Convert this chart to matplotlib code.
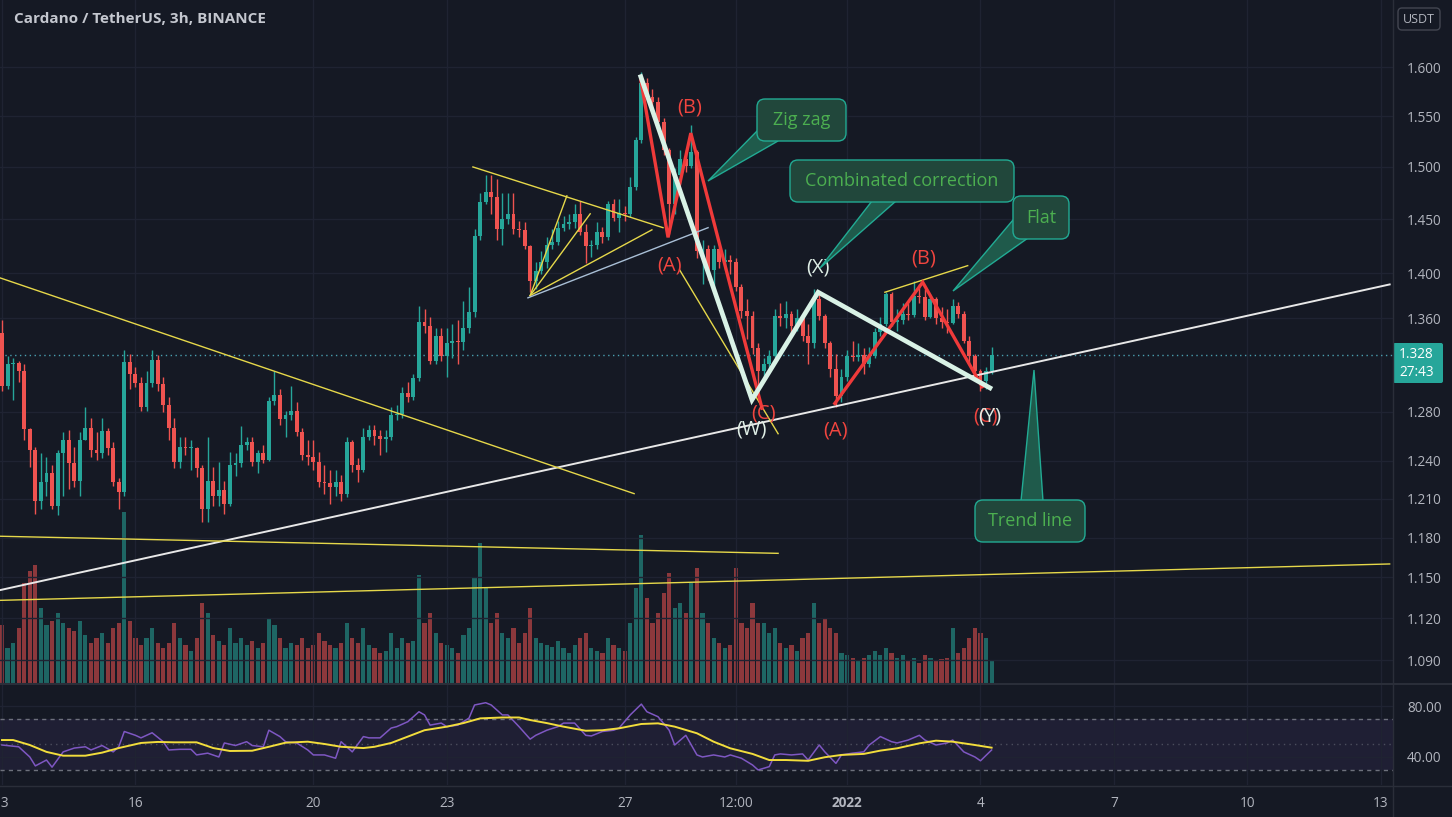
import numpy as np
import pandas as pd
import matplotlib
matplotlib.use("Agg")
import matplotlib.pyplot as plt
from matplotlib.patches import FancyBboxPatch, Polygon
from matplotlib.ticker import FixedLocator, NullLocator, NullFormatter

plt.rcParams['font.family'] = ['Open Sans', 'DejaVu Sans']

# ---- data: ADA/USDT 3h candles, 2021-12-13 00:00 .. 2022-01-04 06:00 ----
start = pd.Timestamp('2021-12-13 00:00')
first_open = 1.347
close = [1.302, 1.320, 1.321, 1.314, 1.266, 1.249, 1.208, 1.223, 1.230, 1.204,
         1.246, 1.257, 1.238, 1.224, 1.257, 1.267, 1.249, 1.246, 1.264, 1.250,
         1.223, 1.215, 1.322, 1.312, 1.304, 1.284, 1.304, 1.324, 1.303, 1.286,
         1.267, 1.239, 1.251, 1.250, 1.250, 1.234, 1.202, 1.224, 1.212, 1.217,
         1.206, 1.237, 1.238, 1.253, 1.255, 1.239, 1.246, 1.241, 1.289, 1.294,
         1.274, 1.277, 1.281, 1.263, 1.245, 1.243, 1.239, 1.223, 1.222, 1.219,
         1.223, 1.214, 1.255, 1.237, 1.233, 1.259, 1.265, 1.260, 1.258, 1.259,
         1.277, 1.278, 1.296, 1.292, 1.308, 1.357, 1.353, 1.323, 1.344, 1.327,
         1.338, 1.340, 1.339, 1.351, 1.365, 1.434, 1.466, 1.476, 1.471, 1.441,
         1.450, 1.455, 1.441, 1.440, 1.425, 1.393, 1.402, 1.410, 1.426, 1.429,
         1.442, 1.445, 1.447, 1.455, 1.438, 1.425, 1.426, 1.438, 1.433, 1.464,
         1.451, 1.456, 1.455, 1.480, 1.526, 1.584, 1.569, 1.564, 1.544, 1.516,
         1.464, 1.492, 1.508, 1.501, 1.514, 1.420, 1.422, 1.403, 1.422, 1.410,
         1.412, 1.410, 1.388, 1.366, 1.362, 1.334, 1.314, 1.320, 1.327, 1.362,
         1.360, 1.364, 1.353, 1.360, 1.344, 1.338, 1.377, 1.362, 1.338, 1.316,
         1.293, 1.309, 1.327, 1.326, 1.328, 1.320, 1.327, 1.348, 1.355, 1.381,
         1.357, 1.358, 1.364, 1.363, 1.380, 1.379, 1.361, 1.377, 1.360, 1.357,
         1.356, 1.371, 1.364, 1.340, 1.327, 1.314, 1.306, 1.314, 1.328]
high = [1.358, 1.327, 1.325, 1.323, 1.320, 1.267, 1.251, 1.246, 1.243, 1.237,
        1.249, 1.263, 1.265, 1.251, 1.263, 1.284, 1.275, 1.263, 1.275, 1.267,
        1.255, 1.226, 1.332, 1.329, 1.318, 1.309, 1.314, 1.332, 1.328, 1.309,
        1.292, 1.275, 1.259, 1.259, 1.257, 1.251, 1.237, 1.259, 1.235, 1.239,
        1.224, 1.247, 1.246, 1.268, 1.259, 1.259, 1.249, 1.253, 1.292, 1.314,
        1.299, 1.281, 1.302, 1.288, 1.267, 1.257, 1.257, 1.247, 1.237, 1.233,
        1.233, 1.229, 1.259, 1.257, 1.242, 1.267, 1.269, 1.269, 1.265, 1.265,
        1.284, 1.286, 1.301, 1.305, 1.312, 1.371, 1.368, 1.361, 1.351, 1.351,
        1.351, 1.355, 1.358, 1.375, 1.388, 1.441, 1.475, 1.492, 1.492, 1.488,
        1.475, 1.475, 1.475, 1.448, 1.447, 1.426, 1.410, 1.420, 1.433, 1.441,
        1.448, 1.453, 1.455, 1.464, 1.467, 1.445, 1.431, 1.447, 1.443, 1.467,
        1.469, 1.469, 1.462, 1.490, 1.529, 1.595, 1.589, 1.577, 1.569, 1.548,
        1.518, 1.499, 1.516, 1.516, 1.541, 1.516, 1.431, 1.426, 1.426, 1.424,
        1.422, 1.417, 1.414, 1.390, 1.377, 1.366, 1.338, 1.325, 1.332, 1.368,
        1.373, 1.375, 1.366, 1.368, 1.361, 1.355, 1.386, 1.384, 1.364, 1.340,
        1.329, 1.316, 1.332, 1.340, 1.338, 1.334, 1.335, 1.351, 1.361, 1.383,
        1.383, 1.368, 1.373, 1.373, 1.393, 1.390, 1.386, 1.381, 1.379, 1.370,
        1.368, 1.377, 1.374, 1.366, 1.344, 1.329, 1.316, 1.318, 1.335]
low = [1.297, 1.299, 1.290, 1.305, 1.257, 1.235, 1.198, 1.202, 1.212, 1.202,
       1.197, 1.212, 1.218, 1.219, 1.212, 1.257, 1.243, 1.241, 1.242, 1.245,
       1.220, 1.202, 1.212, 1.299, 1.301, 1.281, 1.281, 1.301, 1.297, 1.280,
       1.257, 1.234, 1.234, 1.245, 1.233, 1.227, 1.192, 1.192, 1.204, 1.204,
       1.198, 1.204, 1.228, 1.235, 1.249, 1.236, 1.230, 1.238, 1.240, 1.286,
       1.269, 1.259, 1.273, 1.260, 1.241, 1.237, 1.233, 1.219, 1.214, 1.206,
       1.212, 1.208, 1.211, 1.231, 1.223, 1.231, 1.257, 1.253, 1.245, 1.247,
       1.257, 1.273, 1.275, 1.288, 1.290, 1.306, 1.347, 1.320, 1.320, 1.323,
       1.309, 1.325, 1.320, 1.332, 1.347, 1.361, 1.431, 1.464, 1.455, 1.431,
       1.426, 1.445, 1.436, 1.433, 1.422, 1.383, 1.386, 1.399, 1.405, 1.422,
       1.426, 1.439, 1.441, 1.442, 1.435, 1.409, 1.415, 1.422, 1.428, 1.431,
       1.448, 1.438, 1.448, 1.452, 1.478, 1.523, 1.565, 1.557, 1.538, 1.511,
       1.436, 1.455, 1.483, 1.495, 1.499, 1.414, 1.390, 1.394, 1.386, 1.405,
       1.403, 1.399, 1.384, 1.360, 1.342, 1.329, 1.296, 1.306, 1.316, 1.325,
       1.353, 1.351, 1.347, 1.349, 1.340, 1.320, 1.334, 1.358, 1.334, 1.309,
       1.284, 1.288, 1.306, 1.323, 1.323, 1.312, 1.318, 1.325, 1.344, 1.353,
       1.353, 1.349, 1.355, 1.358, 1.361, 1.373, 1.358, 1.360, 1.355, 1.351,
       1.347, 1.355, 1.360, 1.338, 1.320, 1.308, 1.297, 1.299, 1.312]
# volume (relative units)
volume = [58, 35, 40, 55, 100, 112, 118, 75, 58, 62,
          70, 60, 55, 52, 62, 48, 40, 45, 50, 40,
          55, 60, 171, 62, 45, 38, 45, 55, 40, 35,
          40, 60, 45, 38, 32, 45, 80, 70, 48, 42,
          38, 55, 40, 45, 38, 42, 35, 40, 65, 58,
          45, 35, 40, 38, 45, 35, 38, 50, 42, 38,
          35, 40, 60, 45, 40, 55, 38, 35, 30, 32,
          50, 35, 45, 40, 42, 108, 60, 70, 50, 40,
          38, 35, 30, 48, 55, 105, 140, 95, 60, 70,
          50, 45, 55, 40, 50, 75, 45, 40, 38, 36,
          42, 35, 30, 38, 45, 50, 35, 32, 30, 45,
          38, 35, 32, 60, 95, 148, 85, 60, 70, 90,
          110, 75, 80, 70, 100, 115, 70, 60, 45, 40,
          35, 38, 115, 60, 55, 80, 60, 60, 50, 55,
          40, 35, 38, 32, 45, 50, 80, 60, 65, 55,
          50, 30, 28, 25, 22, 25, 28, 32, 28, 35,
          30, 25, 28, 22, 25, 20, 28, 25, 22, 24,
          25, 55, 30, 35, 45, 55, 50, 45, 22]

# RSI(14) and its moving average (bar index, value)
rsi_t = [0, 3, 5, 6, 8, 9, 11, 13, 15, 16, 18, 20, 21, 22, 24, 25, 27, 29, 30, 32,
         34, 35, 37, 39, 40, 42, 44, 45, 47, 48, 50, 51, 53, 55, 56, 58, 60, 61, 63, 65,
         66, 68, 70, 71, 73, 75, 76, 77, 79, 80, 82, 84, 85, 87, 88, 90, 91, 93, 95, 96,
         98, 100, 101, 103, 105, 106, 108, 110, 111, 113, 115, 116, 118, 120, 121, 123, 125, 126, 128, 130,
         131, 133, 135, 136, 138, 139, 140, 142, 144, 145, 147, 148, 150, 151, 153, 155, 156, 158, 160, 161,
         163, 165, 166, 168, 170, 171, 173, 175, 176, 178]
rsi_v = [49.4, 48, 40, 33, 37.6, 32, 44, 47, 48, 45.5, 49, 44, 48, 60, 57, 55, 59, 52, 45.5, 46,
         46, 41.6, 43, 40, 51, 49, 52, 49, 48, 61, 56, 52, 51, 45.5, 41.6, 41.6, 39, 52, 44, 56,
         55, 55, 62.7, 63.8, 67.7, 75.5, 73, 65, 66.6, 63.8, 65, 70.5, 80.8, 82.6, 80.8, 73, 73, 63.8, 54, 57,
         61, 63.8, 66.6, 66.6, 57, 56.5, 60, 61, 62.7, 73, 81.5, 75.5, 71.6, 61, 49.4, 57, 41.6, 40, 41.6, 40,
         41.6, 39, 33.7, 29.8, 32.4, 41.6, 42.4, 41.6, 42.4, 37.6, 49.4, 44, 35, 41.6, 43, 44, 49.4, 56, 52, 51,
         53.3, 57, 53.3, 49.4, 51, 53.3, 44, 40, 37, 45.5]
rsi_ma_t = [0, 2, 5, 8, 11, 15, 18, 21, 25, 28, 31, 35, 38, 41, 45, 48, 51, 55, 58, 61,
            65, 67, 70, 73, 76, 80, 83, 86, 90, 93, 95, 98, 101, 105, 108, 111, 115, 118, 121, 125,
            128, 131, 135, 138, 141, 145, 148, 151, 155, 158, 161, 165, 168, 171, 175, 178]
rsi_ma_v = [53.3, 53.3, 49.4, 44, 41, 41, 43.4, 47, 51, 51.8, 51.5, 51.5, 47, 44.7, 44.9, 48, 51.2, 52, 50.2, 48,
            47, 48, 51, 56, 61, 63.8, 66.6, 70.3, 71, 71, 69, 66.6, 63.8, 60.6, 61, 62.5, 65.9, 66.4, 63.8, 58.6,
            52, 46.8, 42.4, 37.6, 37.6, 37, 39.8, 41.6, 42.4, 45, 46.8, 50.7, 52.8, 52, 49.4, 47.3]

# drawings (bar index, price)
white_trend = [(-0.4, 1.1405), (249.6, 1.390)]
yellow_lines = [[(-0.4, 1.396), (113.7, 1.214)],
                [(-0.4, 1.181), (139.6, 1.168)],
                [(-0.4, 1.133), (249.6, 1.160)],
                [(84.7, 1.4998), (118.9, 1.442)],
                [(95.0, 1.380), (101.6, 1.472)],
                [(95.0, 1.380), (105.8, 1.455)],
                [(95.0, 1.380), (116.9, 1.440)],
                [(121.9, 1.403), (139.6, 1.262)],
                [(158.8, 1.383), (173.7, 1.407)]]
blue_line = [(94.6, 1.378), (127.0, 1.442)]
wave_wxy = [(114.9, 1.590), (134.9, 1.290), (146.8, 1.383), (177.7, 1.300)]
zigzag_abc = [(114.9, 1.587), (119.8, 1.433), (123.9, 1.533), (136.7, 1.283)]
flat_abc = [(149.8, 1.287), (165.6, 1.392), (176.3, 1.301)]
wave_labels = [("(B)", 123.7, 1.5586, 'red'), ("(A)", 120.0, 1.4067, 'red'),
               ("(X)", 146.8, 1.405, 'white'), ("(B)", 165.8, 1.4133, 'red'),
               ("(C)", 136.9, 1.279, 'red'), ("(W)", 134.9, 1.2651, 'white'),
               ("(A)", 150.0, 1.265, 'red'), ("(C)", 177.0, 1.276, 'red'),
               ("(Y)", 177.7, 1.276, 'white')]

price_ticks = [1.09, 1.12, 1.15, 1.18, 1.21, 1.24, 1.28, 1.36, 1.40, 1.45, 1.50, 1.55, 1.60]
date_ticks = ['2021-12-13', '2021-12-16', '2021-12-20', '2021-12-23', '2021-12-27',
              '2021-12-29 12:00', '2022-01-01', '2022-01-04', '2022-01-07', '2022-01-10', '2022-01-13']
date_labels = ['13', '16', '20', '23', '27', '12:00', '2022', '4', '7', '10', '13']

# ---- style ----
BG = '#151924'
GRID = '#1f2332'
TXT = '#b2b5be'
UP = '#26a69a'
DN = '#ef5350'
WAVE_W = '#d9f2e6'

W, H = 1452, 817
fig = plt.figure(figsize=(W / 100, H / 100), dpi=100)
fig.patch.set_facecolor(BG)


def fx(px):
    return px / W


def fy(py):
    return 1 - py / H


close = np.array(close)
high = np.array(high)
low = np.array(low)
volume = np.array(volume)
n = len(close)
t = np.arange(n)
opn = np.r_[first_open, close[:-1]]
up = close >= opn
colors = np.where(up, UP, DN)
high = np.maximum(high, np.maximum(opn, close))
low = np.minimum(low, np.minimum(opn, close))

xmin, xmax = -0.36, 250.2
tick_idx = [(pd.Timestamp(d) - start) / pd.Timedelta('3h') for d in date_ticks]

# main price pane
ax = fig.add_axes([0, fy(683), fx(1393), 683 / H])
axv = ax.twinx()
ax.set_zorder(axv.get_zorder() + 1)
ax.patch.set_visible(False)
axv.patch.set_visible(False)

axv.bar(t, volume, width=0.75, color=colors, alpha=0.55, linewidth=0)
axv.set_ylim(0, 683)
axv.set_yticks([])
for s in axv.spines.values():
    s.set_visible(False)

ax.set_yscale('log')
ax.set_xlim(xmin, xmax)
ax.set_ylim(1.0740, 1.6709)
ax.yaxis.set_major_locator(FixedLocator(price_ticks))
ax.yaxis.set_minor_locator(NullLocator())
ax.yaxis.set_minor_formatter(NullFormatter())
ax.set_yticklabels([f'{p:.3f}' for p in price_ticks])
ax.yaxis.tick_right()
ax.tick_params(axis='y', length=0, pad=10, labelsize=9.8, labelcolor=TXT)
ax.set_xticks(tick_idx)
ax.tick_params(axis='x', length=0, labelbottom=False)
ax.grid(True, color=GRID, lw=1)
for s in ax.spines.values():
    s.set_visible(False)

# candles
ax.vlines(t, low, high, colors=colors, lw=1, zorder=3)
body_lo = np.minimum(opn, close)
body_h = np.maximum(np.abs(close - opn), 0.0009)
ax.bar(t, body_h, bottom=body_lo, width=0.7, color=colors, linewidth=0, zorder=4)

# last price dotted line
ax.axhline(close[-1], color='#4a9fb0', lw=1, ls=(0, (1, 2.5)), zorder=2)

# drawings
(x0, y0), (x1, y1) = white_trend
ax.plot([x0, x1], [y0, y1], color='#e8e8e8', lw=1.4, zorder=5)
for seg in yellow_lines:
    xs, ys = zip(*seg)
    ax.plot(xs, ys, color='#e6d84a', lw=1, zorder=5)
xs, ys = zip(*blue_line)
ax.plot(xs, ys, color='#a9bfd6', lw=1, zorder=5)
xs, ys = zip(*zigzag_abc)
ax.plot(xs, ys, color='#f03a3a', lw=2.4, zorder=6, solid_joinstyle='miter')
xs, ys = zip(*flat_abc)
ax.plot(xs, ys, color='#f03a3a', lw=2.4, zorder=6, solid_joinstyle='miter')
xs, ys = zip(*wave_wxy)
ax.plot(xs, ys, color=WAVE_W, lw=3.4, zorder=7, solid_joinstyle='miter')
for txt, xi, pi, c in wave_labels:
    col = '#f0453f' if c == 'red' else '#dfeee6'
    ax.text(xi, pi, txt, color=col, fontsize=14.5, ha='center', va='center', zorder=8)

# RSI pane
axr = fig.add_axes([0, fy(785), fx(1393), 100 / H], sharex=ax)
axr.patch.set_visible(False)
axr.set_ylim(18, 96.5)
axr.axhspan(30, 70, color='#7e57c2', alpha=0.1, lw=0)
for lvl, ls in [(70, (0, (3, 3))), (30, (0, (3, 3))), (50, (0, (1, 3)))]:
    axr.axhline(lvl, color='#787b86', lw=1, ls=ls, alpha=0.9 if lvl != 50 else 0.5)
axr.plot(rsi_t, rsi_v, color='#7e57c2', lw=1.1)
axr.plot(rsi_ma_t, rsi_ma_v, color='#f2dd3c', lw=1.4)
axr.set_yticks([40, 80])
axr.set_yticklabels(['40.00', '80.00'])
axr.yaxis.tick_right()
axr.tick_params(axis='y', length=0, pad=10, labelsize=9.8, labelcolor=TXT)
axr.set_xticks(tick_idx)
axr.set_xticklabels(date_labels)
axr.tick_params(axis='x', length=0, pad=8, labelsize=9.8, labelcolor=TXT)
for lab in axr.get_xticklabels():
    if lab.get_text() == '2022':
        lab.set_fontweight('bold')
axr.grid(True, axis='x', color=GRID, lw=1)
axr.grid(True, axis='y', color=GRID, lw=1)
for s in axr.spines.values():
    s.set_visible(False)
axr.set_xlim(xmin, xmax)

# overlay in pixel coordinates for chrome and callouts
ov = fig.add_axes([0, 0, 1, 1], zorder=20)
ov.set_xlim(0, W)
ov.set_ylim(H, 0)
ov.axis('off')
ov.plot([1393, 1393], [0, H], color='#2a2e39', lw=1)
ov.plot([0, W], [684, 684], color='#2a2e39', lw=1.5)
ov.plot([0, W], [786, 786], color='#2a2e39', lw=1)
ov.text(14, 19, 'Cardano / TetherUS, 3h, BINANCE', color='#c4c7cf', fontsize=11,
        fontweight='bold', va='center', ha='left')
ov.add_patch(FancyBboxPatch((1398, 8), 42, 22, boxstyle='round,pad=0,rounding_size=4',
                            fc=BG, ec='#434651', lw=1))
ov.text(1419, 19, 'USDT', color=TXT, fontsize=9, ha='center', va='center')
ov.add_patch(FancyBboxPatch((1393, 343), 50, 40, boxstyle='round,pad=0,rounding_size=2',
                            fc=UP, ec='none'))
ov.text(1399, 354, f'{close[-1]:.3f}', color='white', fontsize=9.8, ha='left', va='center')
ov.text(1399, 372, '27:43', color='white', fontsize=9.8, ha='left', va='center')

callouts = [("Zig zag", (757, 99, 89, 42), [(760, 128), (778, 141), (708, 181)]),
            ("Combinated correction", (790, 160, 224, 42), [(872, 201), (896, 201), (820, 268)]),
            ("Flat", (1013, 196, 56, 43), [(1013, 220), (1028, 238), (953, 291)]),
            ("Trend line", (975, 500, 110, 42), [(1021, 501), (1043, 501), (1034, 370)])]
for text, (bx, by, bw, bh), tri in callouts:
    ov.add_patch(Polygon(tri, closed=True, fc='#1f5a4b', ec='#22ab94', lw=1, zorder=1))
    ov.add_patch(FancyBboxPatch((bx, by), bw, bh, boxstyle='round,pad=0,rounding_size=8',
                                fc='#21473b', ec='#22ab94', lw=1, zorder=2))
    ov.text(bx + bw / 2, by + bh / 2, text, color='#4caf50', fontsize=13,
            ha='center', va='center', zorder=3)

fig.savefig('out.png', dpi=100, facecolor=BG)
